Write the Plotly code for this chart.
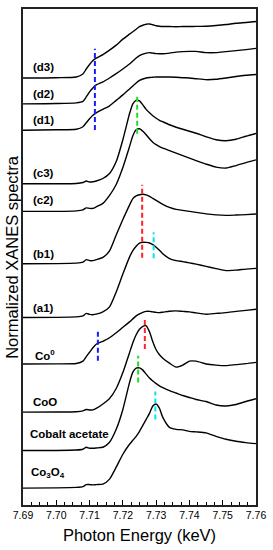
import plotly.graph_objects as go

# ---------------- data ----------------
energy_keV = [7.690, 7.700, 7.706, 7.708, 7.709, 7.710, 7.711, 7.712, 7.714, 7.716,
              7.718, 7.720, 7.722, 7.723, 7.724, 7.725, 7.726, 7.727, 7.728, 7.729,
              7.730, 7.731, 7.732, 7.734, 7.736, 7.738, 7.740, 7.742, 7.745, 7.748,
              7.751, 7.754, 7.757, 7.760]

d3 = [0, 0.3, 1, 4, 9, 13.5, 17.5, 20, 23.5, 28, 33, 39, 44, 46.5, 49, 51.5, 53, 54, 54.3, 53.5,
      52.5, 52, 51.7, 51.7, 51.5, 51.7, 51.7, 51.8, 52, 52.7, 53.7, 55, 55.8, 56.7]
d2 = [0, 0.3, 1, 2.5, 7, 12, 16, 19, 22, 26, 30.3, 35, 40, 43, 46, 48.5, 50, 51, 51.5, 51,
      50.5, 50.3, 50.3, 51, 52, 52.5, 52.7, 52.7, 51.5, 51.5, 52.5, 53.5, 54.5, 55.7]
d1 = [0, 0.5, 1, 3.5, 7.5, 11.5, 15, 17.5, 21, 24.5, 30, 35.5, 41.5, 44.5, 47.5, 50, 51.5, 52.5, 53, 53.2,
      53.5, 53.5, 53.5, 53.5, 53.2, 52.8, 52.5, 51.8, 50.8, 51.2, 52.5, 54, 55.2, 56]
c3 = [0, 0.1, 0.3, 1.3, 2.8, 1.8, 2, 2.8, 5.3, 10.3, 22.3, 44.3, 70.3, 80.3, 83.8, 83.3, 79.3, 74.8, 71.3, 68.3,
      65.8, 63.8, 62.3, 59.3, 56.8, 54.8, 52.8, 50.8, 47.3, 44.3, 43.3, 44.8, 47.8, 50.6]
c2 = [0, 0, 0.5, 1.5, 3.5, 3, 3, 4.5, 8, 16, 27, 44, 65, 76, 82, 83, 80.5, 77, 73, 69.5,
      67, 65, 63.5, 61, 58.5, 56, 53.5, 51, 47.5, 44.5, 43.5, 46, 49, 51.7]
b1 = [0, 0.2, 0.7, 1.7, 4.2, 3.2, 3.2, 4.2, 6.5, 13, 29, 44.5, 59, 65.5, 68.2, 69.4, 69.9, 69.2, 67.7, 65.7,
      63.7, 61.7, 59.7, 56.7, 54.7, 53.7, 52.7, 51.7, 50.2, 49.2, 48.7, 49, 49.4, 50]
a1 = [0, 0.2, 0.7, 1.7, 4.2, 3.2, 2.9, 3.4, 5.7, 10.7, 25.7, 43.7, 60.7, 67.2, 71.7, 74.7, 75.7, 75.5, 74.9, 73.2,
      70.7, 67.7, 64.2, 59.2, 57.2, 56.2, 55, 53.7, 51.5, 49.2, 47.2, 47.7, 48.7, 49.4]
co_metal = [0, 0.1, 0.5, 2.8, 7.3, 11.8, 16.3, 19.8, 22.8, 26.3, 31.3, 36.8, 42.3, 45.3, 48.3, 50.3, 51.8, 52.8, 52.8, 52.3,
            51.8, 51.6, 52, 53, 53.3, 52.8, 52.3, 51.3, 50, 50.8, 51.6, 52.8, 53.8, 55]
coo = [0, 0.1, 0.4, 1.2, 2.7, 2.2, 2.2, 3.7, 8.2, 13.7, 23.7, 39.7, 59.7, 69.7, 77.7, 83.2, 86.2, 86.7, 80.7, 70.7,
       62.7, 57.7, 54.2, 49.2, 45.2, 47.2, 51.2, 51.2, 48.4, 47.2, 46.7, 47.7, 48.7, 50]
co_acetate = [0, 0.1, 0.5, 1.3, 3.3, 2.3, 2.3, 2.6, 3.3, 8.3, 21.3, 41.3, 68.3, 78.8, 82.8, 83, 80.8, 76.8, 72.8, 69.8,
              67.3, 65, 63.3, 60.3, 57.8, 55.3, 53.3, 51.3, 49.3, 45.8, 44.8, 46.3, 49.3, 52]
co3o4 = [0, 0.2, 0.7, 1.5, 3.5, 3.5, 3.2, 3.5, 4, 9, 21, 34, 44, 48, 52, 57, 63, 69, 75, 82.5,
         84.5, 80, 71, 61, 59, 58.5, 57, 56.5, 55.5, 52, 49, 47, 45.7, 44.7]

spectra = [d3, d2, d1, c3, c2, b1, a1, co_metal, coo, co_acetate, co3o4]
vertical_offsets = [429, 403, 376.5, 322.7, 295, 242.3, 188.3, 141.7, 93.3, 54.7, 17]

label_texts = ["(d3)", "(d2)", "(d1)", "(c3)", "(c2)", "(b1)", "(a1)",
               "Co<sup>0</sup>", "CoO", "Cobalt acetate", "Co<sub>3</sub>O<sub>4</sub>"]
label_energy = [7.6925, 7.6925, 7.6925, 7.6925, 7.6925, 7.6925, 7.6925, 7.6930, 7.6925, 7.6914, 7.6919]
label_level = [440, 413.3, 386.7, 333.3, 306, 251.7, 198.3, 150.7, 103.3, 71, 31.7]

# reference energy markers (dashed)
marker_energy = [7.7116, 7.7125, 7.7243, 7.7246, 7.7258, 7.7266, 7.72925, 7.72976]
marker_low = [376.7, 145, 373, 123, 248.3, 156.7, 248, 86]
marker_high = [458.3, 176.7, 412, 150, 321.7, 188.3, 274, 114]
marker_colors = ["#1a1aff", "#1a1aff", "#22dd22", "#22dd22", "#ff2424", "#ff2424", "#00e6f0", "#00e6f0"]

xticks = [7.69, 7.70, 7.71, 7.72, 7.73, 7.74, 7.75, 7.76]

# ---------------- figure ----------------
fig = go.Figure()

for spec, off in zip(spectra, vertical_offsets):
    fig.add_trace(go.Scatter(
        x=energy_keV, y=[off + v for v in spec], mode="lines",
        line=dict(color="black", width=1.4, shape="spline", smoothing=0.6),
        hoverinfo="skip", showlegend=False))

for e, lo, hi, c in zip(marker_energy, marker_low, marker_high, marker_colors):
    fig.add_trace(go.Scatter(
        x=[e, e], y=[lo, hi], mode="lines",
        line=dict(color=c, width=2, dash="5px,3px"),
        hoverinfo="skip", showlegend=False))

for t, ex, ly in zip(label_texts, label_energy, label_level):
    fig.add_annotation(x=ex, y=ly, xref="x", yref="y", text="<b>" + t + "</b>",
                       showarrow=False, xanchor="left", yanchor="middle",
                       font=dict(family="Liberation Sans, Arial", size=11.5, color="black"))

fig.add_annotation(x=-0.048, y=0.5, xref="paper", yref="paper", text="Normalized XANES spectra",
                   textangle=-90, showarrow=False, xanchor="center", yanchor="middle",
                   font=dict(family="Liberation Sans, Arial", size=16.5, color="black"))

fig.update_layout(
    width=273, height=550,
    margin=dict(l=23, r=15, t=7, b=45),
    paper_bgcolor="white", plot_bgcolor="white",
    font=dict(family="Liberation Sans, Arial", color="black"),
)

fig.update_xaxes(
    range=[7.69, 7.76], tickvals=xticks, ticktext=[f"{v:.2f}" for v in xticks],
    ticks="inside", ticklen=5, tickwidth=1, tickcolor="black",
    minor=dict(dtick=0.0025, tick0=7.69, ticks="inside", ticklen=3, tickcolor="black", tickwidth=1),
    showline=True, linecolor="#222", linewidth=1.5, mirror=True,
    showgrid=False, zeroline=False,
    tickfont=dict(size=10.5, color="black"),
    title=dict(text="Photon Energy (keV)", font=dict(size=16.5, color="black"), standoff=9),
)
fig.update_yaxes(
    range=[0, 498.3], showticklabels=False, ticks="",
    showline=True, linecolor="#222", linewidth=1.5, mirror=True,
    showgrid=False, zeroline=False,
)

fig.write_html("out.html", config={"displayModeBar": False},
               post_script="document.body.style.margin='0';document.body.style.padding='0';")
